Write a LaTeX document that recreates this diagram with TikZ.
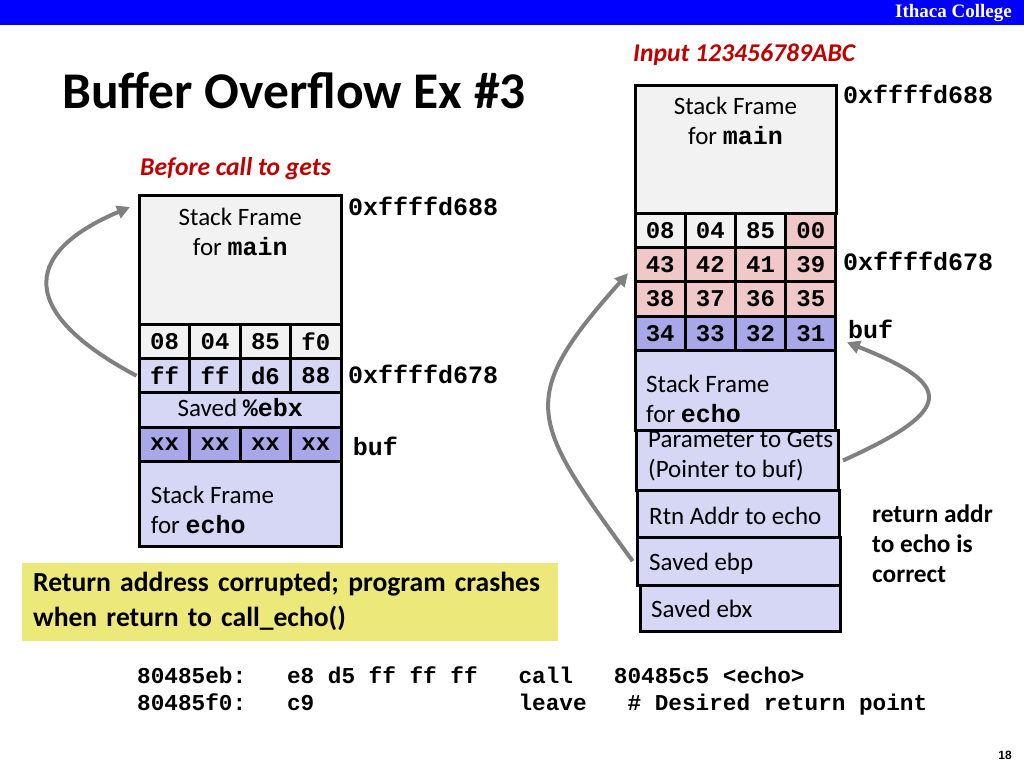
\documentclass[tikz,border=0pt]{standalone}
\usepackage{fontspec}
\setmainfont{Carlito}
\newfontfamily\monofont{Liberation Mono}
\newfontfamily\serifont{Liberation Serif}
\newfontfamily\arialfont{Liberation Sans}
\usetikzlibrary{arrows.meta, positioning, calc}
\definecolor{ichblue}{RGB}{0,0,255}
\definecolor{framegray}{RGB}{242,242,242}
\definecolor{echoblue}{RGB}{214,214,245}
\definecolor{bufblue}{RGB}{168,168,232}
\definecolor{inpink}{RGB}{240,200,200}
\definecolor{notered}{RGB}{192,0,0}
\definecolor{noteyellow}{RGB}{236,232,122}
\definecolor{arrowgray}{RGB}{128,128,128}
\newcommand{\fsz}[2]{\fontsize{#1}{#2}\selectfont}
\newcommand{\mono}[1]{{\monofont\bfseries #1}}
\tikzset{
  box/.style={draw=black, line width=3pt, rectangle, inner sep=0pt, outer sep=0pt, anchor=north west},
  cell/.style={box, minimum width=50.3pt, minimum height=34.3pt, font=\fsz{24}{28}\monofont\bfseries},
  boxtext/.style={font=\fsz{25}{30}, inner sep=0pt, anchor=base west},
  addr/.style={font=\fsz{25}{30}\monofont\bfseries, inner sep=0pt, anchor=base west},
  note/.style={font=\fsz{25.6}{30}\bfseries\itshape, text=notered, inner sep=0pt, anchor=base west},
  backarrow/.style={draw=arrowgray, line width=4pt, -{Triangle[length=13pt,width=13pt]}},
}

\begin{document}
\begin{tikzpicture}[x=1pt, y=-1pt]
\useasboundingbox (0,0) rectangle (1024,768);

% header
\node[fill=ichblue, minimum width=1024pt, minimum height=25pt, inner sep=0pt, anchor=north west] (banner) at (0,0) {};
\node[font=\fsz{19}{22}\serifont\bfseries, text=white, inner sep=0pt, anchor=base east] (college) at (1012,18) {Ithaca College};
\node[font=\fsz{51.5}{60}\bfseries, inner sep=0pt, anchor=base west] (title) at (62,108) {Buffer Overflow Ex \#3};
\node[font=\fsz{12}{14}\arialfont\bfseries, inner sep=0pt, anchor=base east] (pagenum) at (1012,759) {18};

% left stack: before call to gets
\node[note] (before) at (140,175) {Before call to gets};
\node[box, fill=framegray, minimum width=201.6pt, minimum height=128.6pt] (lmain) at (139.5,195.7) {};
\node[boxtext, align=center, anchor=north] (lmaintxt) at (240.3,208) {Stack Frame\\for \mono{main}};
\foreach \v [count=\i] in {08,04,85,f0}
  \node[cell, fill=framegray] (lr1\i) at ({139.5+(\i-1)*50.4},324.3) {\v};
\foreach \v [count=\i] in {ff,ff,d6,88}
  \node[cell, fill=echoblue] (lr2\i) at ({139.5+(\i-1)*50.4},358.6) {\v};
\node[box, fill=echoblue, minimum width=201.6pt, minimum height=34.3pt] (lsaved) at (139.5,392.9) {};
\node[boxtext, anchor=base] (lsavedtxt) at (240.3,416.7) {Saved \mono{\%ebx}};
\foreach \v [count=\i] in {xx,xx,xx,xx}
  \node[cell, fill=bufblue] (lr3\i) at ({139.5+(\i-1)*50.4},427.2) {\v};
\node[box, fill=echoblue, minimum width=201.6pt, minimum height=85pt] (lecho) at (139.5,461.5) {};
\node[boxtext, align=left, anchor=north west] (lechotxt) at (150.7,486) {Stack Frame\\for \mono{echo}};

\node[addr] (laddrhi) at (348,215) {0xffffd688};
\node[addr] (laddrlo) at (348,383) {0xffffd678};
\node[addr] (lbuf) at (352.7,455) {buf};

\coordinate (ltip) at ([xshift=-9.5pt,yshift=-11.3pt]lmain.north west);
\draw[backarrow] ([xshift=-3pt]lr21.west) .. controls (22,315) and (17,255) .. (ltip);

% note box
\node[fill=noteyellow, minimum width=536pt, minimum height=78pt, inner xsep=11pt, inner ysep=0pt,
      text width=514pt, align=left, anchor=north west, font=\fsz{27.6}{35}\bfseries] (crash) at (22,562.5)
  {Return address corrupted; program crashes\\when return to call\_echo()};

% right stack: input 123456789ABC
\node[note] (input) at (633,61.7) {Input 123456789ABC};
\node[box, fill=framegray, minimum width=201pt, minimum height=128.3pt] (rmain) at (635,85) {};
\node[boxtext, align=center, anchor=north] (rmaintxt) at (735.5,97) {Stack Frame\\for \mono{main}};
\foreach \v/\c [count=\i] in {08/framegray,04/framegray,85/framegray,00/inpink}
  \node[cell, fill=\c] (rr1\i) at ({635+(\i-1)*50.2},213.3) {\v};
\foreach \v [count=\i] in {43,42,41,39}
  \node[cell, fill=inpink] (rr2\i) at ({635+(\i-1)*50.2},247.6) {\v};
\foreach \v [count=\i] in {38,37,36,35}
  \node[cell, fill=inpink] (rr3\i) at ({635+(\i-1)*50.2},281.9) {\v};
\foreach \v [count=\i] in {34,33,32,31}
  \node[cell, fill=bufblue] (rr4\i) at ({635+(\i-1)*50.2},316.2) {\v};
\node[box, fill=echoblue, minimum width=200.8pt, minimum height=80pt] (recho) at (635,350.5) {};
\node[boxtext, align=left, anchor=north west] (rechotxt) at (646,375) {Stack Frame\\for \mono{echo}};
\node[box, fill=echoblue, minimum width=201.3pt, minimum height=60pt] (rparam) at (636.7,430.5) {};
\node[boxtext, align=left, anchor=north west] (rparamtxt) at (648,431) {Parameter to Gets\\(Pointer to buf)};
\node[box, fill=echoblue, minimum width=201.3pt, minimum height=46.6pt] (rrtn) at (637.7,490.7) {};
\node[boxtext] (rrtntxt) at (649,524) {Rtn Addr to echo};
\node[box, fill=echoblue, minimum width=202.3pt, minimum height=47.7pt] (rebp) at (637.7,537.3) {};
\node[boxtext] (rebptxt) at (649,570) {Saved ebp};
\node[box, fill=echoblue, minimum width=200.7pt, minimum height=46.7pt] (rebx) at (640,585) {};
\node[boxtext] (rebxtxt) at (651,617) {Saved ebx};

\node[addr] (raddrhi) at (843,103.3) {0xffffd688};
\node[addr] (raddrlo) at (843,270) {0xffffd678};
\node[addr] (rbuf) at (848,338) {buf};
\node[font=\fsz{25.3}{30}\bfseries, align=left, inner sep=0pt, anchor=north west] (rnote) at (872,505) {return addr\\to echo is\\correct};

\coordinate (rtipa) at ([xshift=-7pt,yshift=-8.5pt]rr21.west);
\coordinate (rtipb) at ([xshift=11pt,yshift=-9pt]rr44.east);
\draw[backarrow] ([xshift=-5pt]rebp.west) .. controls (530,420) and (515,400) .. (rtipa);
\draw[backarrow] ([xshift=5pt]rparam.east) .. controls (955,410) and (955,385) .. (rtipb);

% code listing
\node[font=\fsz{22.7}{27}\monofont\bfseries, inner sep=0pt, anchor=base west] (code1) at (137,683)
  {80485eb:~~~e8 d5 ff ff ff~~~call~~~80485c5 <echo>};
\node[font=\fsz{22.7}{27}\monofont\bfseries, inner sep=0pt, anchor=base west] (code2) at (137,710)
  {80485f0:~~~c9~~~~~~~~~~~~~~~leave~~~\# Desired return point};
\end{tikzpicture}
\end{document}
